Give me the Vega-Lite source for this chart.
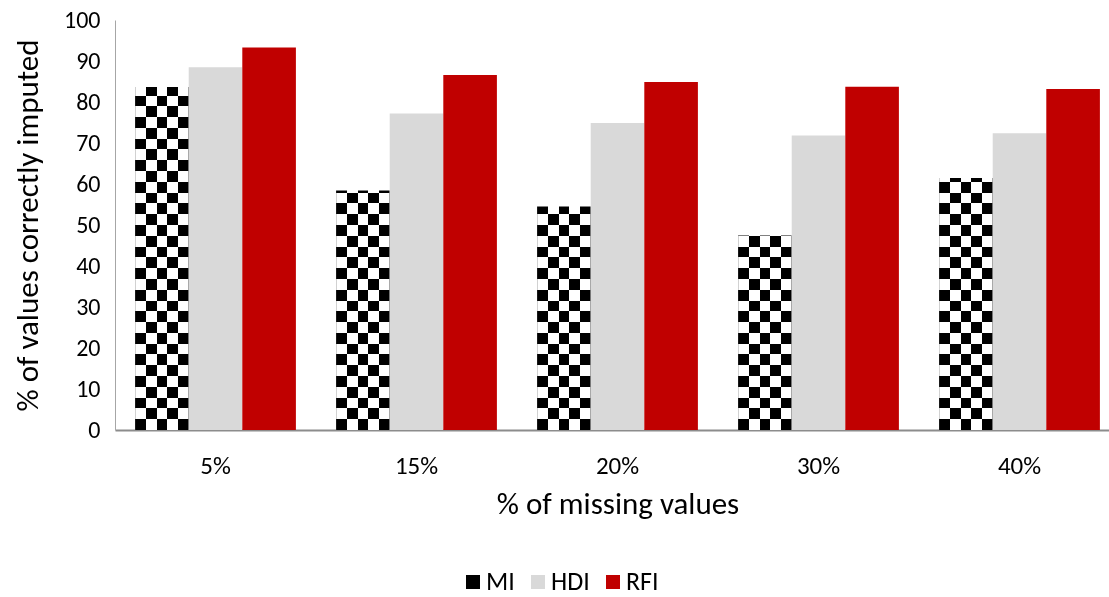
{
  "$schema": "https://vega.github.io/schema/vega-lite/v6.json",
  "width": 1005,
  "height": 410,
  "autosize": {"type": "none"},
  "padding": {"left": 115, "top": 20, "right": 0, "bottom": 167},
  "background": "white",
  "config": {
    "font": "Carlito, Calibri, Lato, sans-serif",
    "view": {"stroke": null},
    "axis": {"labelColor": "#000000", "titleColor": "#000000", "grid": false, "ticks": false, "labelFont": "Carlito, Calibri, Lato, sans-serif", "titleFont": "Carlito, Calibri, Lato, sans-serif", "titleFontWeight": "normal"},
    "legend": {"labelFont": "Carlito, Calibri, Lato, sans-serif", "labelColor": "#000000"}
  },
  "data": {
    "values": [
      {"missing": "5%", "method": "MI", "value": 84.0},
      {"missing": "5%", "method": "HDI", "value": 88.5},
      {"missing": "5%", "method": "RFI", "value": 93.3},
      {"missing": "15%", "method": "MI", "value": 58.8},
      {"missing": "15%", "method": "HDI", "value": 77.2},
      {"missing": "15%", "method": "RFI", "value": 86.6},
      {"missing": "20%", "method": "MI", "value": 54.9},
      {"missing": "20%", "method": "HDI", "value": 74.9},
      {"missing": "20%", "method": "RFI", "value": 84.9},
      {"missing": "30%", "method": "MI", "value": 47.8},
      {"missing": "30%", "method": "HDI", "value": 71.8},
      {"missing": "30%", "method": "RFI", "value": 83.7},
      {"missing": "40%", "method": "MI", "value": 61.8},
      {"missing": "40%", "method": "HDI", "value": 72.4},
      {"missing": "40%", "method": "RFI", "value": 83.2}
    ]
  },
  "encoding": {
    "x": {
      "field": "missing",
      "type": "nominal",
      "sort": ["5%", "15%", "20%", "30%", "40%"],
      "scale": {"paddingInner": 0.2, "paddingOuter": 0.1},
      "axis": {
        "title": "% of missing values",
        "titleFontSize": 31,
        "titlePadding": 11,
        "labelFontSize": 25,
        "labelAngle": 0,
        "labelPadding": 23,
        "grid": false,
        "domainColor": "#8c8c8c",
        "domainWidth": 2
      }
    },
    "xOffset": {
      "field": "method",
      "type": "nominal",
      "scale": {"domain": ["MI", "HDI", "RFI"], "paddingInner": 0, "paddingOuter": 0}
    }
  },
  "layer": [
    {
      "description": "MI: horizontal black/white bands over the full 0-100 range",
      "transform": [{"filter": "datum.method === 'MI'"}],
      "mark": {
        "type": "bar",
        "color": {
          "gradient": "linear", "x1": 0, "y1": 0, "x2": 0, "y2": 1,
          "stops": [
            {"offset": 0, "color": "#000000"}, {"offset": 0.0263, "color": "#000000"},
            {"offset": 0.0263, "color": "#ffffff"}, {"offset": 0.0526, "color": "#ffffff"},
            {"offset": 0.0526, "color": "#000000"}, {"offset": 0.0789, "color": "#000000"},
            {"offset": 0.0789, "color": "#ffffff"}, {"offset": 0.1053, "color": "#ffffff"},
            {"offset": 0.1053, "color": "#000000"}, {"offset": 0.1316, "color": "#000000"},
            {"offset": 0.1316, "color": "#ffffff"}, {"offset": 0.1579, "color": "#ffffff"},
            {"offset": 0.1579, "color": "#000000"}, {"offset": 0.1842, "color": "#000000"},
            {"offset": 0.1842, "color": "#ffffff"}, {"offset": 0.2105, "color": "#ffffff"},
            {"offset": 0.2105, "color": "#000000"}, {"offset": 0.2368, "color": "#000000"},
            {"offset": 0.2368, "color": "#ffffff"}, {"offset": 0.2632, "color": "#ffffff"},
            {"offset": 0.2632, "color": "#000000"}, {"offset": 0.2895, "color": "#000000"},
            {"offset": 0.2895, "color": "#ffffff"}, {"offset": 0.3158, "color": "#ffffff"},
            {"offset": 0.3158, "color": "#000000"}, {"offset": 0.3421, "color": "#000000"},
            {"offset": 0.3421, "color": "#ffffff"}, {"offset": 0.3684, "color": "#ffffff"},
            {"offset": 0.3684, "color": "#000000"}, {"offset": 0.3947, "color": "#000000"},
            {"offset": 0.3947, "color": "#ffffff"}, {"offset": 0.4211, "color": "#ffffff"},
            {"offset": 0.4211, "color": "#000000"}, {"offset": 0.4474, "color": "#000000"},
            {"offset": 0.4474, "color": "#ffffff"}, {"offset": 0.4737, "color": "#ffffff"},
            {"offset": 0.4737, "color": "#000000"}, {"offset": 0.5, "color": "#000000"},
            {"offset": 0.5, "color": "#ffffff"}, {"offset": 0.5263, "color": "#ffffff"},
            {"offset": 0.5263, "color": "#000000"}, {"offset": 0.5526, "color": "#000000"},
            {"offset": 0.5526, "color": "#ffffff"}, {"offset": 0.5789, "color": "#ffffff"},
            {"offset": 0.5789, "color": "#000000"}, {"offset": 0.6053, "color": "#000000"},
            {"offset": 0.6053, "color": "#ffffff"}, {"offset": 0.6316, "color": "#ffffff"},
            {"offset": 0.6316, "color": "#000000"}, {"offset": 0.6579, "color": "#000000"},
            {"offset": 0.6579, "color": "#ffffff"}, {"offset": 0.6842, "color": "#ffffff"},
            {"offset": 0.6842, "color": "#000000"}, {"offset": 0.7105, "color": "#000000"},
            {"offset": 0.7105, "color": "#ffffff"}, {"offset": 0.7368, "color": "#ffffff"},
            {"offset": 0.7368, "color": "#000000"}, {"offset": 0.7632, "color": "#000000"},
            {"offset": 0.7632, "color": "#ffffff"}, {"offset": 0.7895, "color": "#ffffff"},
            {"offset": 0.7895, "color": "#000000"}, {"offset": 0.8158, "color": "#000000"},
            {"offset": 0.8158, "color": "#ffffff"}, {"offset": 0.8421, "color": "#ffffff"},
            {"offset": 0.8421, "color": "#000000"}, {"offset": 0.8684, "color": "#000000"},
            {"offset": 0.8684, "color": "#ffffff"}, {"offset": 0.8947, "color": "#ffffff"},
            {"offset": 0.8947, "color": "#000000"}, {"offset": 0.9211, "color": "#000000"},
            {"offset": 0.9211, "color": "#ffffff"}, {"offset": 0.9474, "color": "#ffffff"},
            {"offset": 0.9474, "color": "#000000"}, {"offset": 0.9737, "color": "#000000"},
            {"offset": 0.9737, "color": "#ffffff"}, {"offset": 1, "color": "#ffffff"}
          ]
        }
      },
      "encoding": {
        "y": {"datum": 100, "type": "quantitative"},
        "y2": {"datum": 0}
      }
    },
    {
      "description": "MI: vertical bands blended by difference to form the checkerboard",
      "transform": [{"filter": "datum.method === 'MI'"}],
      "mark": {
        "type": "bar",
        "blend": "difference",
        "color": {
          "gradient": "linear", "x1": 0, "y1": 0, "x2": 1, "y2": 0,
          "stops": [
            {"offset": 0, "color": "#ffffff"}, {"offset": 0.2, "color": "#ffffff"},
            {"offset": 0.2, "color": "#000000"}, {"offset": 0.4, "color": "#000000"},
            {"offset": 0.4, "color": "#ffffff"}, {"offset": 0.6, "color": "#ffffff"},
            {"offset": 0.6, "color": "#000000"}, {"offset": 0.8, "color": "#000000"},
            {"offset": 0.8, "color": "#ffffff"}, {"offset": 1, "color": "#ffffff"}
          ]
        }
      },
      "encoding": {
        "y": {"field": "value", "type": "quantitative"},
        "y2": {"datum": 0}
      }
    },
    {
      "description": "MI: blank out the bands above each value, edges included",
      "transform": [{"filter": "datum.method === 'MI'"}],
      "mark": {"type": "bar", "color": "#ffffff", "stroke": "#ffffff", "strokeWidth": 3},
      "encoding": {
        "y": {"field": "value", "type": "quantitative"},
        "y2": {"datum": 101}
      }
    },
    {
      "description": "HDI and RFI solid bars, plus the legend",
      "transform": [{"filter": "datum.method !== 'MI'"}],
      "mark": {"type": "bar"},
      "encoding": {
        "y": {
          "field": "value",
          "type": "quantitative",
          "scale": {"domain": [0, 100], "nice": false},
          "axis": {
            "title": "% of values correctly imputed",
            "titleFontSize": 31,
            "titlePadding": 19,
            "labelFontSize": 24,
            "labelPadding": 15,
            "values": [0, 10, 20, 30, 40, 50, 60, 70, 80, 90, 100],
            "domainColor": "#a6a6a6",
            "domainWidth": 1
          }
        },
        "color": {
          "field": "method",
          "type": "nominal",
          "scale": {"domain": ["MI", "HDI", "RFI"], "range": ["#000000", "#d9d9d9", "#c00000"]},
          "legend": {
            "title": null,
            "orient": "none",
            "direction": "horizontal",
            "legendX": 345,
            "legendY": 549,
            "symbolType": "square",
            "symbolSize": 196,
            "symbolStrokeWidth": 0,
            "labelFontSize": 26,
            "labelOffset": 0,
            "columnPadding": 10,
            "encode": {
              "symbols": {
                "update": {
                  "fill": {"signal": "datum.value === 'MI' ? {gradient: 'linear', x1: 0, y1: 0, x2: 1, y2: 1, stops: [{offset: 0, color: '#000000'}, {offset: 0.3, color: '#000000'}, {offset: 0.3, color: '#ffffff'}, {offset: 0.55, color: '#ffffff'}, {offset: 0.55, color: '#000000'}, {offset: 1, color: '#000000'}]} : scale('color', datum.value)"}
                }
              }
            }
          }
        }
      }
    }
  ]
}
